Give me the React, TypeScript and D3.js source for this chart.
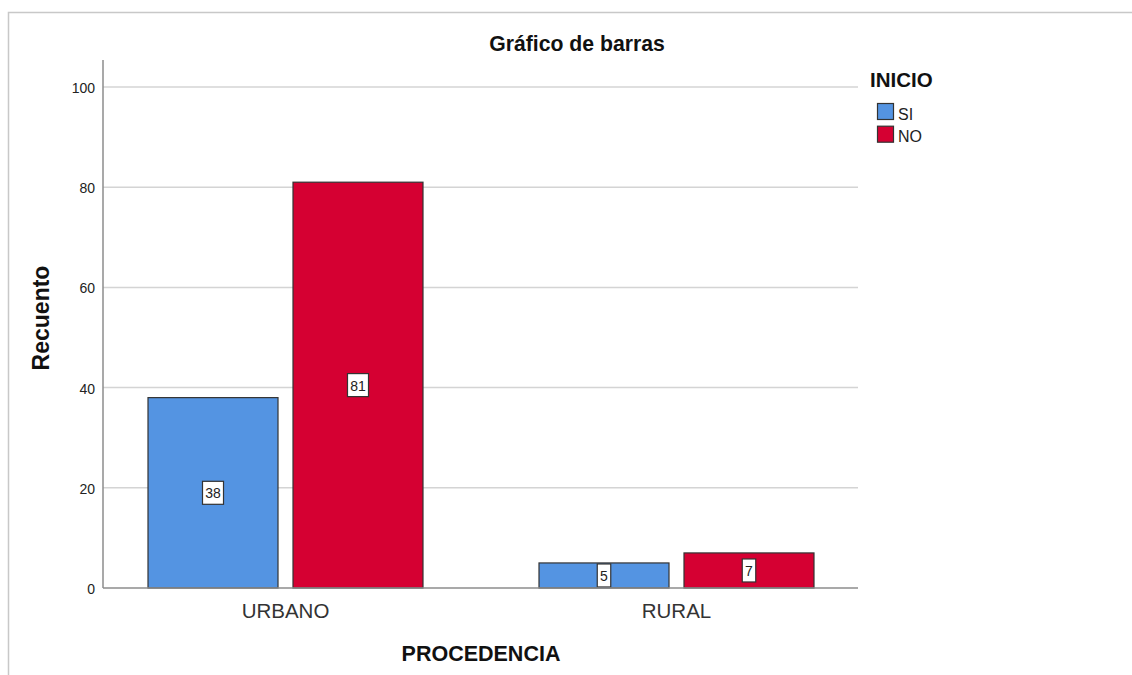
import React from "react";
import * as d3 from "d3";

const categories = ["URBANO", "RURAL"];
const series = ["SI", "NO"];
const siValues = [38, 5];
const noValues = [81, 7];
const yTicks = [0, 20, 40, 60, 80, 100];
const colors = ["#5494e2", "#d50032"];
const title = "Gráfico de barras";
const xTitle = "PROCEDENCIA";
const yTitle = "Recuento";
const legendTitle = "INICIO";

const FONT = "Liberation Sans, Arial, sans-serif";

export default function App() {
  const x0 = d3.scaleBand<string>().domain(categories).range([90, 872]).paddingInner(0.2967).paddingOuter(0.2967 / 2);
  const x1 = d3.scaleBand<string>().domain(series).range([0, x0.bandwidth()]).paddingInner(0.1034).paddingOuter(0);
  const y = d3.scaleLinear().domain([0, 100]).range([588, 87]);
  const values = [siValues, noValues];
  const plotLeft = 103;
  const plotRight = 858;

  return (
    <svg width={1132} height={675} style={{ position: "absolute", left: 0, top: 0 }} fontFamily={FONT}>
      <rect x={0} y={0} width={1132} height={675} fill="#fff" />
      <rect x={8.5} y={12.5} width={1140} height={700} fill="none" stroke="#c8c8c8" strokeWidth={1.5} />
      <text x={577} y={51} textAnchor="middle" fontSize={21.2} fontWeight="bold" fill="#111">{title}</text>
      {yTicks.filter(t => t > 0).map(t => (
        <line key={"g" + t} x1={plotLeft} x2={plotRight} y1={y(t)} y2={y(t)} stroke="#d4d4d4" strokeWidth={1.5} />
      ))}
      {yTicks.map(t => (
        <text key={"t" + t} x={95} y={y(t) + 6} textAnchor="end" fontSize={14} fill="#222">{t}</text>
      ))}
      {categories.map((c, ci) =>
        series.map((s, si) => {
          const v = values[si][ci];
          const bx = (x0(c) as number) + (x1(s) as number);
          const bw = x1.bandwidth();
          const top = y(v);
          const labelStr = String(v);
          const lw = labelStr.length * 7.5 + 6;
          const cy = y(v / 2);
          return (
            <g key={c + s}>
              <rect x={bx} y={top} width={bw} height={y(0) - top} fill={colors[si]} stroke="#333" strokeWidth={1.2} />
              <rect x={bx + bw / 2 - lw / 2} y={cy - 11.5} width={lw} height={23} fill="#fff" stroke="#333" strokeWidth={1.2} />
              <text x={bx + bw / 2} y={cy + 5.5} textAnchor="middle" fontSize={14} fill="#222">{labelStr}</text>
            </g>
          );
        })
      )}
      <line x1={plotLeft} x2={plotLeft} y1={60} y2={588} stroke="#8c8c8c" strokeWidth={1.5} />
      <line x1={plotLeft} x2={plotRight} y1={588} y2={588} stroke="#8c8c8c" strokeWidth={1.5} />
      {categories.map(c => (
        <text key={"c" + c} x={(x0(c) as number) + x0.bandwidth() / 2} y={618} textAnchor="middle" fontSize={20.5} fill="#333">{c}</text>
      ))}
      <text x={481} y={661} textAnchor="middle" fontSize={21.5} fontWeight="bold" fill="#111">{xTitle}</text>
      <text transform={`translate(49,${318}) rotate(-90)`} textAnchor="middle" fontSize={23} fontWeight="bold" fill="#111">{yTitle}</text>
      <text x={870} y={87} fontSize={20.5} fontWeight="bold" fill="#111">{legendTitle}</text>
      {series.map((s, i) => (
        <g key={"l" + s}>
          <rect x={877.5} y={103.5 + i * 22.7} width={16} height={16} fill={colors[i]} stroke="#333" strokeWidth={1.2} />
          <text x={898} y={119.5 + i * 22.7} fontSize={16} fill="#222">{s}</text>
        </g>
      ))}
    </svg>
  );
}
